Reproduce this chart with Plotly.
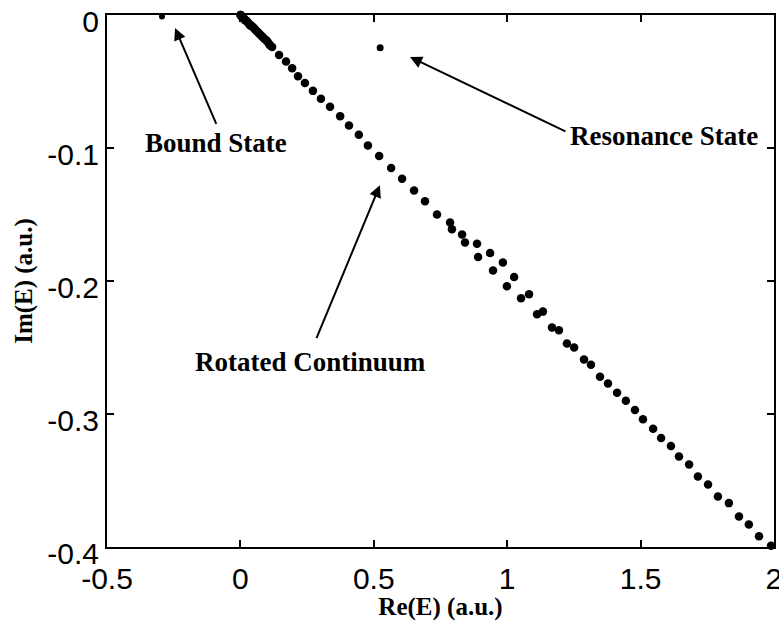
import plotly.graph_objects as go

# Rotated continuum (complex-scaled eigenvalues)
cont_re = [0.000, 0.002, 0.004, 0.006, 0.009, 0.012, 0.015, 0.018, 0.022, 0.026,
           0.030, 0.034, 0.038, 0.042, 0.047, 0.051, 0.056, 0.061, 0.066, 0.071,
           0.076, 0.081, 0.086, 0.091, 0.097, 0.102, 0.108, 0.113, 0.119,
           0.145, 0.171, 0.194, 0.216, 0.242, 0.272, 0.302, 0.336, 0.374, 0.407,
           0.444, 0.478, 0.520, 0.565, 0.606, 0.651, 0.692, 0.737, 0.786, 0.793,
           0.831, 0.842, 0.887, 0.891, 0.936, 0.947, 0.984, 0.999, 1.026, 1.052,
           1.082, 1.112, 1.134, 1.168, 1.194, 1.224, 1.251, 1.288, 1.314, 1.348,
           1.378, 1.412, 1.445, 1.479, 1.509, 1.547, 1.577, 1.614, 1.644, 1.682,
           1.715, 1.753, 1.790, 1.831, 1.869, 1.906, 1.944, 1.989]
cont_im = [0.000, 0.000, -0.001, -0.001, -0.002, -0.002, -0.003, -0.004, -0.004, -0.005,
           -0.006, -0.007, -0.008, -0.008, -0.009, -0.010, -0.011, -0.012, -0.013, -0.014,
           -0.015, -0.016, -0.017, -0.018, -0.019, -0.020, -0.022, -0.023, -0.024,
           -0.030, -0.035, -0.040, -0.046, -0.051, -0.057, -0.063, -0.069, -0.076, -0.083,
           -0.090, -0.098, -0.106, -0.115, -0.123, -0.132, -0.140, -0.150, -0.156, -0.161,
           -0.165, -0.171, -0.172, -0.182, -0.179, -0.192, -0.186, -0.204, -0.197, -0.213,
           -0.210, -0.225, -0.223, -0.235, -0.237, -0.247, -0.250, -0.259, -0.263, -0.272,
           -0.277, -0.284, -0.290, -0.297, -0.304, -0.311, -0.318, -0.324, -0.332, -0.338,
           -0.347, -0.353, -0.362, -0.367, -0.377, -0.383, -0.392, -0.399]

bound_re = [-0.294]
bound_im = [-0.001]
res_re = [0.524]
res_im = [-0.0245]

x_ticks = [-0.5, 0, 0.5, 1, 1.5, 2]
x_tick_text = ["-0.5", "0", "0.5", "1", "1.5", "2"]
y_ticks = [-0.4, -0.3, -0.2, -0.1, 0]
y_tick_text = ["-0.4", "-0.3", "-0.2", "-0.1", "0"]

serif = "Liberation Serif"
sans = "Liberation Sans"

fig = go.Figure()
fig.add_trace(go.Scatter(x=cont_re, y=cont_im, mode="markers",
                         marker=dict(color="black", size=8.5), cliponaxis=False,
                         showlegend=False))
fig.add_trace(go.Scatter(x=bound_re, y=bound_im, mode="markers",
                         marker=dict(color="black", size=6), cliponaxis=False,
                         showlegend=False))
fig.add_trace(go.Scatter(x=res_re, y=res_im, mode="markers",
                         marker=dict(color="black", size=7), cliponaxis=False,
                         showlegend=False))

arrows = [
    # (head_x, head_y, tail_x, tail_y)
    (-0.245, -0.0098, -0.088, -0.083),
    (0.636, -0.0316, 1.224, -0.088),
    (0.523, -0.128, 0.283, -0.244),
]
for hx, hy, tx, ty in arrows:
    fig.add_annotation(x=hx, y=hy, ax=tx, ay=ty, xref="x", yref="y",
                       axref="x", ayref="y", text="", showarrow=True,
                       arrowhead=2, arrowsize=1.2, arrowwidth=2,
                       arrowcolor="black")

labels = [
    ("Bound State", -0.091, -0.096),
    ("Resonance State", 1.588, -0.091),
    ("Rotated Continuum", 0.261, -0.261),
]
for txt, lx, ly in labels:
    fig.add_annotation(x=lx, y=ly, xref="x", yref="y", text=txt,
                       showarrow=False,
                       font=dict(family=serif, size=27, color="black", weight="bold"))

axis_common = dict(showgrid=False, zeroline=False, showline=True, linecolor="black",
                   linewidth=2, mirror="ticks", ticks="inside", ticklen=7,
                   tickwidth=2, tickcolor="black", ticklabeloverflow="allow",
                   tickfont=dict(family=sans, size=30, color="black"))

fig.update_xaxes(range=[-0.5, 2.0002], tickvals=x_ticks, ticktext=x_tick_text,
                 ticklabelstandoff=4,
                 title=dict(text="Re(E) (a.u.)", standoff=0,
                            font=dict(family=serif, size=25, color="black", weight="bold")),
                 **axis_common)
fig.update_yaxes(range=[-0.4, 0.00005], tickvals=y_ticks, ticktext=y_tick_text,
                 ticklabelshift=6,
                 title=dict(text="Im(E) (a.u.)", standoff=8,
                            font=dict(family=serif, size=25, color="black", weight="bold")),
                 **axis_common)

fig.update_layout(width=779, height=621, plot_bgcolor="white", paper_bgcolor="white",
                  margin=dict(l=107, r=5, t=15, b=74, autoexpand=False))

fig.write_html("out.html")
